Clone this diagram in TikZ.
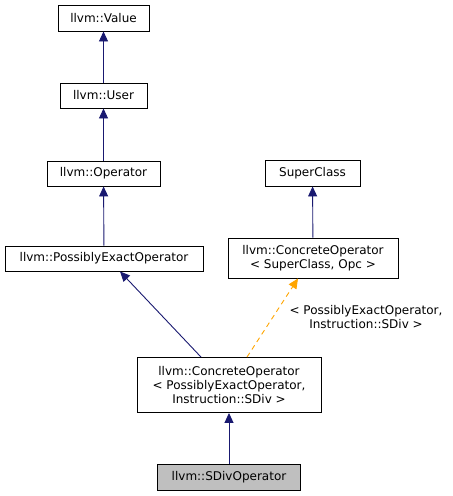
\documentclass[tikz,border=0pt]{standalone}
\usepackage{fontspec}
\setmainfont{DejaVu Sans}
\usetikzlibrary{arrows.meta}
\definecolor{edgeblue}{RGB}{25,25,112}
\definecolor{edgeorange}{RGB}{255,165,0}
\definecolor{curgray}{RGB}{191,191,191}
\tikzset{
  cls/.style={draw=black, fill=white, line width=0.9pt, inner sep=0pt, font=\fontsize{12}{14}\selectfont, align=center},
  inherit/.style={draw=edgeblue, line width=0.9pt, -{Triangle[length=10pt,width=9pt]}},
  templ/.style={draw=edgeorange, line width=0.9pt, dash pattern={on 5pt off 4pt}, -{Triangle[length=10pt,width=9pt]}},
}
\begin{document}
\begin{tikzpicture}[x=1pt,y=1pt,yscale=-1,xscale=1]
\useasboundingbox (0,0) rectangle (453,496);

% Text Node
\node [cls, minimum width=91pt, minimum height=26pt] (value) at (103.5,18) {llvm::Value};
% Text Node
\node [cls, minimum width=87pt, minimum height=25pt] (user) at (103.5,95.5) {llvm::User};
% Text Node
\node [cls, minimum width=113pt, minimum height=25pt] (operator) at (103.5,173.5) {llvm::Operator};
% Text Node
\node [cls, minimum width=198pt, minimum height=25pt] (possexact) at (104,258.5) {llvm::PossiblyExactOperator};
% Text Node
\node [cls, minimum width=95pt, minimum height=26pt] (superclass) at (312.5,173) {SuperClass};
% Text Node
\node [cls, minimum width=170pt, minimum height=40pt] (concop) at (313,258) {llvm::ConcreteOperator\\{\textless} SuperClass, Opc {\textgreater}};
% Text Node
\node [cls, minimum width=184pt, minimum height=55pt] (concsdiv) at (229,385) {llvm::ConcreteOperator\\{\textless} PossiblyExactOperator,\\Instruction::SDiv {\textgreater}};
% Text Node
\node [cls, fill=curgray, minimum width=143pt, minimum height=26pt] (sdivop) at (229,477) {llvm::SDivOperator};

%Straight Lines
\draw [inherit] (user) -- (value);
\draw [inherit] (operator) -- (user);
\draw [inherit] (possexact) -- (operator);
\draw [inherit] (concop) -- (superclass);
\draw [inherit] (concsdiv.north -| 201,0) -- (possexact.south -| 120,0);
\draw [inherit] (sdivop) -- (concsdiv);
\draw [templ] (concsdiv.north -| 247,0) -- (concop.south -| 298,0);

% Text Node
\node [font=\fontsize{12}{14}\selectfont, align=center, inner sep=0pt] (tlabel) at (366,317) {{\textless} PossiblyExactOperator,\\Instruction::SDiv {\textgreater}};

\end{tikzpicture}
\end{document}
